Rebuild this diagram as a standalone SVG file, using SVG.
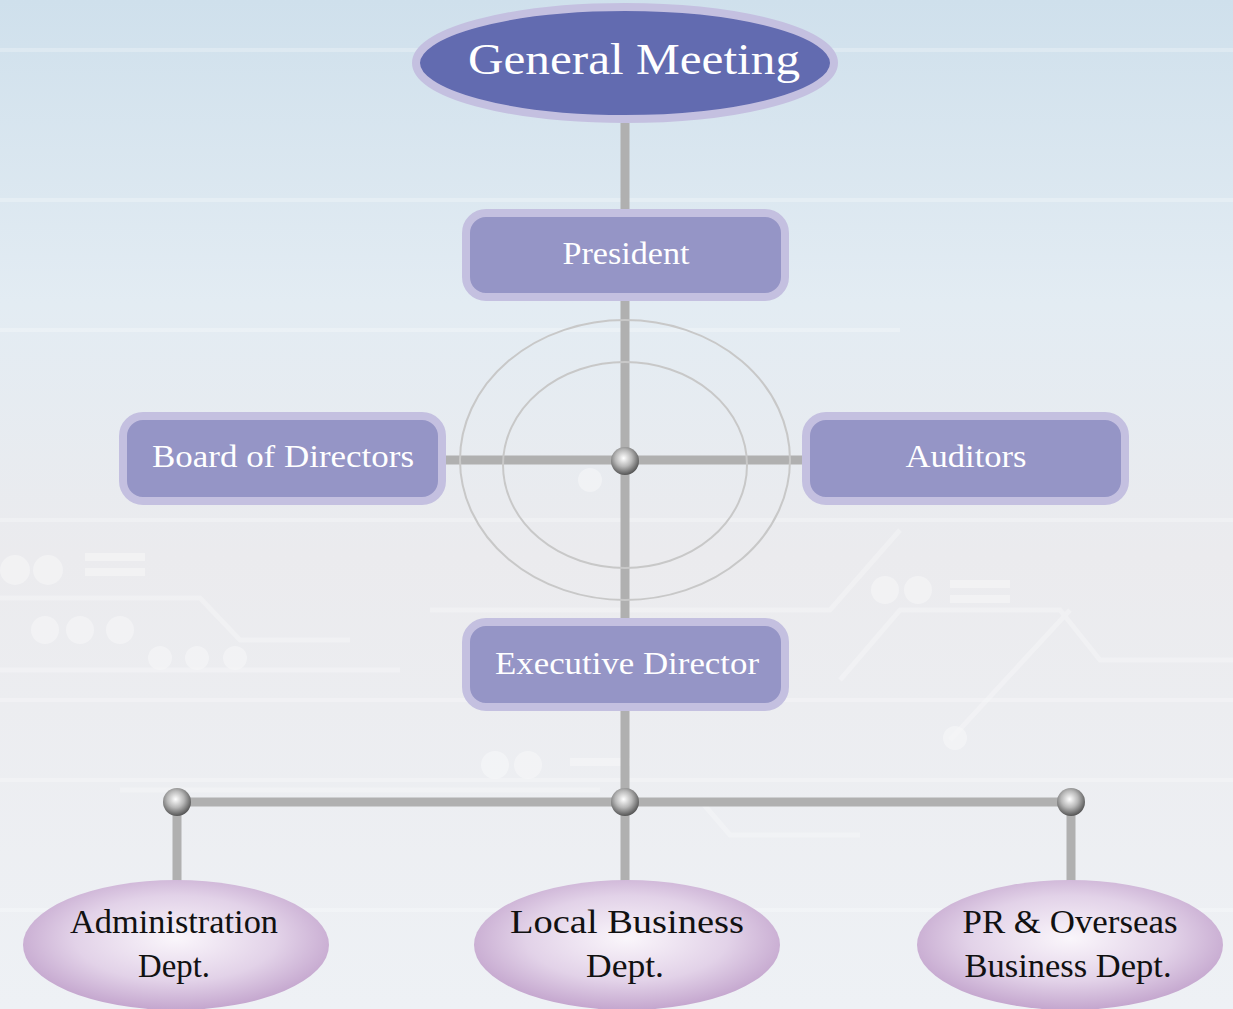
<svg xmlns="http://www.w3.org/2000/svg" width="1233" height="1009" viewBox="0 0 1233 1009">
<defs>
<linearGradient id="bg" x1="0" y1="0" x2="0" y2="1">
<stop offset="0" stop-color="#cfe0ec"/>
<stop offset="0.3" stop-color="#e3ecf3"/>
<stop offset="0.55" stop-color="#ebebee"/>
<stop offset="1" stop-color="#eef1f5"/>
</linearGradient>
<radialGradient id="ball" cx="0.45" cy="0.4" r="0.6">
<stop offset="0" stop-color="#ffffff"/>
<stop offset="0.5" stop-color="#b8b8b8"/>
<stop offset="1" stop-color="#555555"/>
</radialGradient>
<radialGradient id="dept" cx="0.5" cy="0.45" r="0.55">
<stop offset="0" stop-color="#faf6fb"/>
<stop offset="0.6" stop-color="#e2d2e8"/>
<stop offset="1" stop-color="#c4a6ce"/>
</radialGradient>
<style>
.box{fill:#9595c6;stroke:#c4c0e0;stroke-width:8}
.lbl{font-family:"Liberation Serif","DejaVu Serif",serif;fill:#ffffff;text-anchor:middle}
.dl{font-family:"Liberation Serif","DejaVu Serif",serif;fill:#111111;text-anchor:middle;font-size:33px}
.conn{stroke:#b0b0b0;stroke-width:9;fill:none}
.ring{stroke:#c8c8c8;stroke-width:2;fill:none}
.deco{stroke:#ffffff;fill:none;opacity:0.5}
</style>
</defs>
<rect width="1233" height="1009" fill="url(#bg)"/>
<g id="background" opacity="0.5">
<path class="deco" stroke-width="4" d="M0 50H1233M0 200H1233M0 330H900M0 520H1233M0 700H1233M0 780H1233M0 910H1233"/>
<path class="deco" stroke-width="5" d="M0 598H200L240 640H350M0 670H400M430 610H830L900 530M840 680L900 610H1060L1100 660H1233M950 740L1070 610M120 790H600M700 800L730 835H860"/>
<g fill="#ffffff" opacity="0.7">
<circle cx="15" cy="570" r="15"/><circle cx="48" cy="570" r="15"/>
<circle cx="45" cy="630" r="14"/><circle cx="80" cy="630" r="14"/><circle cx="120" cy="630" r="14"/>
<circle cx="160" cy="658" r="12"/><circle cx="197" cy="658" r="12"/><circle cx="235" cy="658" r="12"/>
<circle cx="590" cy="480" r="12"/><circle cx="885" cy="590" r="14"/><circle cx="918" cy="590" r="14"/>
<circle cx="495" cy="765" r="14"/><circle cx="528" cy="765" r="14"/><circle cx="955" cy="738" r="12"/>
<rect x="85" y="553" width="60" height="8"/><rect x="85" y="568" width="60" height="8"/>
<rect x="950" y="580" width="60" height="8"/><rect x="950" y="595" width="60" height="8"/>
<rect x="570" y="758" width="60" height="8"/>
</g>
</g>
<g id="connectors">
<path class="conn" d="M625 123V802"/>
<path class="conn" d="M446 460H802"/>
<path class="conn" d="M177 802H1071"/>
<path class="conn" d="M177 802V882M625 802V882M1071 802V882"/>
</g>
<g id="rings">
<ellipse class="ring" cx="625" cy="460" rx="165" ry="140"/>
<ellipse class="ring" cx="625" cy="465" rx="122" ry="103"/>
</g>
<g id="general-meeting">
<ellipse cx="625" cy="63" rx="209" ry="56" fill="#626bb0" stroke="#c4c0e0" stroke-width="8"/>
<text class="lbl" x="634" y="74" font-size="44" textLength="332" lengthAdjust="spacingAndGlyphs">General Meeting</text>
</g>
<g id="president">
<rect class="box" x="466" y="213" width="319" height="84" rx="20"/>
<text class="lbl" x="626" y="264" font-size="32" textLength="127" lengthAdjust="spacingAndGlyphs">President</text>
</g>
<g id="board">
<rect class="box" x="123" y="416" width="319" height="85" rx="20"/>
<text class="lbl" x="283" y="467" font-size="32" textLength="262" lengthAdjust="spacingAndGlyphs">Board of Directors</text>
</g>
<g id="auditors">
<rect class="box" x="806" y="416" width="319" height="85" rx="20"/>
<text class="lbl" x="966" y="467" font-size="32" textLength="121" lengthAdjust="spacingAndGlyphs">Auditors</text>
</g>
<g id="executive">
<rect class="box" x="466" y="622" width="319" height="85" rx="20"/>
<text class="lbl" x="627" y="674" font-size="32" textLength="264" lengthAdjust="spacingAndGlyphs">Executive Director</text>
</g>
<g id="junctions">
<circle cx="625" cy="461" r="14" fill="url(#ball)"/>
<circle cx="177" cy="802" r="14" fill="url(#ball)"/>
<circle cx="625" cy="802" r="14" fill="url(#ball)"/>
<circle cx="1071" cy="802" r="14" fill="url(#ball)"/>
</g>
<g id="admin">
<ellipse cx="176" cy="945" rx="153" ry="65" fill="url(#dept)"/>
<text class="dl" x="174" y="933" textLength="208" lengthAdjust="spacingAndGlyphs">Administration</text>
<text class="dl" x="174" y="977" textLength="72" lengthAdjust="spacingAndGlyphs">Dept.</text>
</g>
<g id="local">
<ellipse cx="627" cy="945" rx="153" ry="65" fill="url(#dept)"/>
<text class="dl" x="627" y="933" textLength="234" lengthAdjust="spacingAndGlyphs">Local Business</text>
<text class="dl" x="625" y="977" textLength="78" lengthAdjust="spacingAndGlyphs">Dept.</text>
</g>
<g id="pr">
<ellipse cx="1070" cy="945" rx="153" ry="65" fill="url(#dept)"/>
<text class="dl" x="1070" y="933" textLength="215" lengthAdjust="spacingAndGlyphs">PR &amp; Overseas</text>
<text class="dl" x="1068" y="977" textLength="207" lengthAdjust="spacingAndGlyphs">Business Dept.</text>
</g>
</svg>
